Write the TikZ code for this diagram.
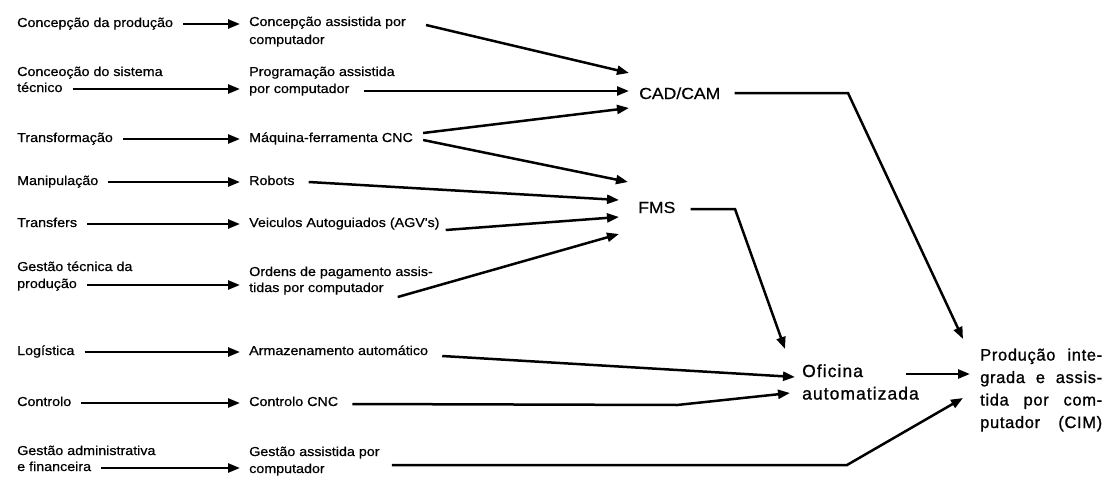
\documentclass[tikz,border=0pt]{standalone}
\usepackage{fontspec}
\setmainfont{Liberation Sans}
\newfontfamily\labfont[FakeStretch=1.1,FakeBold=0.6]{Liberation Sans}
\newfontfamily\hubfont[LetterSpace=6,FakeBold=1]{Liberation Sans}
\newfontfamily\cimfont[LetterSpace=4,FakeBold=1]{Liberation Sans}
\usetikzlibrary{arrows.meta,calc}
\begin{document}
\begin{tikzpicture}[x=1pt,y=-1pt,
  lab/.style={anchor=west,inner sep=0pt,font=\labfont\fontsize{13}{16}\selectfont,text height=9pt,text depth=3pt},
  hub/.style={anchor=west,inner sep=0pt,font=\labfont\fontsize{16}{20}\selectfont,text height=11pt,text depth=1pt},
  big/.style={anchor=west,inner sep=0pt,align=left,font=\hubfont\fontsize{17.5}{22.5}\selectfont},
  cim/.style={anchor=west,inner sep=0pt,align=left,font=\cimfont\fontsize{16.5}{22.5}\selectfont},
  arr/.style={line width=2.5pt,line join=miter,-{Triangle[length=12pt,width=9pt]}},
  feed/.style={arr,shorten <=10pt,shorten >=9pt}]
\useasboundingbox (0,0) rectangle (1112,479);

% areas of activity
\node[lab] (L1)  at (17,24)  {Concepção da produção};
\node[lab] (L2a) at (17,73)  {Conceoção do sistema};
\node[lab] (L2b) at (17,89)  {técnico};
\node[lab] (L3)  at (17,139) {Transformação};
\node[lab] (L4)  at (17,182) {Manipulação};
\node[lab] (L5)  at (17,224) {Transfers};
\node[lab] (L6a) at (17,268) {Gestão técnica da};
\node[lab] (L6b) at (17,285) {produção};
\node[lab] (L7)  at (17,352) {Logística};
\node[lab] (L8)  at (17,403) {Controlo};
\node[lab] (L9a) at (17,452) {Gestão administrativa};
\node[lab] (L9b) at (17,468) {e financeira};

% computer-aided tools
\node[lab] (M1a) at (249,23)  {Concepção assistida por};
\node[lab] (M1b) at (249,41)  {computador};
\node[lab] (M2a) at (249,73)  {Programação assistida};
\node[lab] (M2b) at (249,90)  {por computador};
\node[lab] (M3)  at (249,139) {Máquina-ferramenta CNC};
\node[lab] (M4)  at (249,182) {Robots};
\node[lab] (M5)  at (249,224) {Veiculos Autoguiados (AGV's)};
\node[lab] (M6a) at (249,273) {Ordens de pagamento assis-};
\node[lab] (M6b) at (249,289) {tidas por computador};
\node[lab] (M7)  at (249,352) {Armazenamento automático};
\node[lab] (M8)  at (249,403) {Controlo CNC};
\node[lab] (M9a) at (249,453) {Gestão assistida por};
\node[lab] (M9b) at (249,470) {computador};

% integration levels
\node[hub] (C) at (639,94)  {CAD/CAM};
\node[hub] (F) at (638,208) {FMS};
\node[big] (O) at (802,382) {Oficina\\automatizada};
\node[cim] (P) at (980,390) {%
  \makebox[122pt][s]{Produção inte-}\\
  \makebox[122pt][s]{grada e assis-}\\
  \makebox[122pt][s]{tida por com-}\\
  \makebox[122pt][s]{putador (CIM)}};

% arrow tips at the integration levels
\coordinate (c1) at ($(C.west)+(-10,-21)$);
\coordinate (c2) at ($(C.west)+(-10,-3)$);
\coordinate (c3) at ($(C.west)+(-10,14)$);
\coordinate (f1) at ($(F.west)+(-10,-26)$);
\coordinate (f2) at ($(F.west)+(-19,-8)$);
\coordinate (f3) at ($(F.west)+(-19,9)$);
\coordinate (f4) at ($(F.west)+(-19,26)$);
\coordinate (o0) at ($(O.west)+(-17,-33)$);
\coordinate (o1) at ($(O.west)+(-7,-5)$);
\coordinate (o2) at ($(O.west)+(-12,11)$);
\coordinate (p0) at ($(P.west)+(-17,-51)$);
\coordinate (p1) at ($(P.west)+(-10,-16)$);
\coordinate (p2) at ($(P.west)+(-17,8)$);
% bends
\coordinate (cb) at (848,93);
\coordinate (fb) at (735,209);
\coordinate (kb) at (677,405);
\coordinate (gb) at (847,465);

% activity -> tool
\draw[feed] (L1.east)  -- (L1.east -| M1a.west);
\draw[feed] (L2b.east) -- (L2b.east -| M2b.west);
\draw[feed] (L3.east)  -- (L3.east -| M3.west);
\draw[feed] (L4.east)  -- (L4.east -| M4.west);
\draw[feed] (L5.east)  -- (L5.east -| M5.west);
\draw[feed] (L6b.east) -- (L6b.east -| M6b.west);
\draw[feed] (L7.east)  -- (L7.east -| M7.west);
\draw[feed] (L8.east)  -- (L8.east -| M8.west);
\draw[feed] (L9b.east) -- (L9b.east -| M9b.west);

% tool -> CAD/CAM
\draw[arr] ($(M1a.east)+(20,2)$) -- (c1);
\draw[arr] ($(M2b.east)+(14,1)$) -- (c2);
\draw[arr] ($(M3.east)+(10,-6)$) -- (c3);
% tool -> FMS
\draw[arr] ($(M3.east)+(10,1)$) -- (f1);
\draw[arr] ($(M4.east)+(14,0)$) -- (f2);
\draw[arr] ($(M5.east)+(6,6)$) -- (f3);
\draw[arr] ($(M6b.east)+(14,8)$) -- (f4);
% tool -> Oficina
\draw[arr] ($(M7.east)+(14,4)$) -- (o1);
\draw[arr] ($(M8.east)+(14,1)$) -- (kb) -- (o2);
% upper levels
\draw[arr] ($(F.east)+(15,1)$) -- (fb) -- (o0);
\draw[arr] ($(C.east)+(14,-1)$) -- (cb) -- (p0);
\draw[arr] ($(O.east)+(-13,-8)$) -- (p1);
\draw[arr] ($(M9a.east)+(12,12)$) -- (gb) -- (p2);
\end{tikzpicture}
\end{document}
